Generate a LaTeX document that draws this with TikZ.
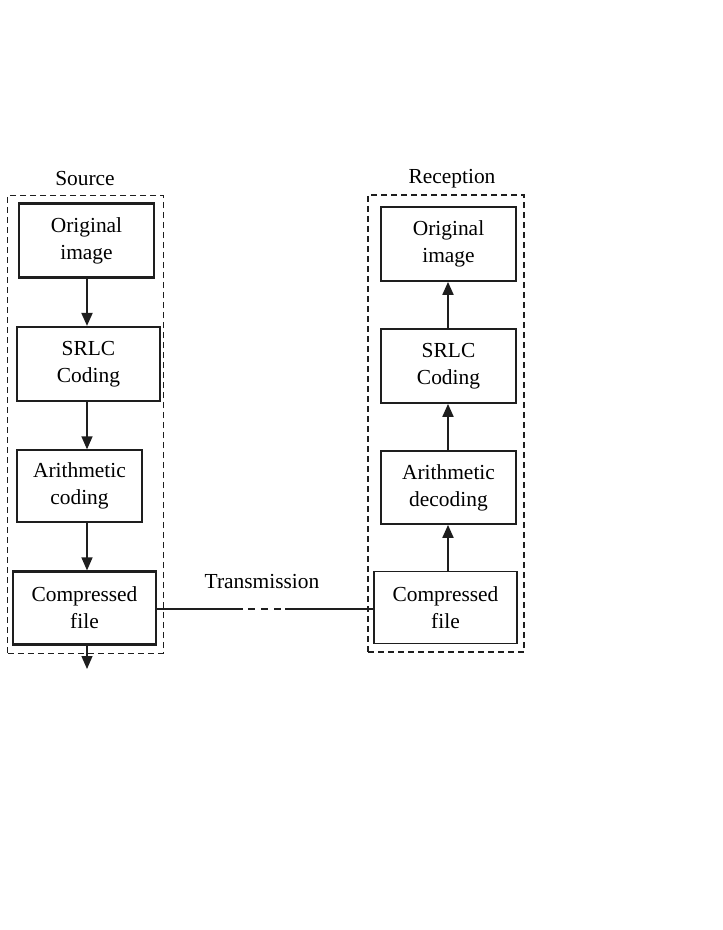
\documentclass[tikz,border=0pt]{standalone}
\usepackage{fontspec}
\setmainfont{Liberation Serif}
\usepackage{xcolor}
\definecolor{Ink}{RGB}{30,30,30}
\usepackage{tikz}
\usetikzlibrary{arrows.meta}
\tikzstyle{Block}=[draw=Ink,inner sep=0pt,align=center,minimum width=135bp,
minimum height=74bp,font=\fontsize{21.5}{27}\selectfont]
\tikzstyle{BlockThick}=[Block,line width=2.2bp]
\tikzstyle{BlockThin}=[Block,line width=1.3bp]
\tikzstyle{Frame}=[draw=Ink,dashed,dash pattern=on 6bp off 4bp,inner sep=0pt]
\tikzstyle{Flow}=[draw=Ink,line width=1.3bp,-{Triangle[width=11bp,length=13bp]}]
\tikzstyle{FlowThick}=[Flow,line width=2bp]
\tikzstyle{Link}=[draw=Ink,line width=1.3bp]
\tikzstyle{Caption}=[font=\fontsize{21.5}{27}\selectfont]

\begin{document}
\begin{tikzpicture}[x=1bp,y=-1bp]
        \useasboundingbox(0,0)rectangle(723,930);
        % source side
        \node[Frame,line width=1bp,minimum width=155bp,minimum height=458bp](F1)at(85.5,424){};
        \node[Frame,line width=1.8bp,minimum width=156bp,minimum height=457bp](F2)at(446,423.5){};
        \node[Caption](s)at(85,179){Source};
        \node[Caption](r)at(452,179){Reception};
        \node[BlockThick](O1)at(86.5,240.5){Original\\image};
        \node[BlockThick,minimum width=143bp](S1)at(88.5,364){SRLC\\Coding};
        \node[BlockThin,minimum width=125bp,minimum height=72bp](A1)at(79.5,486){Arithmetic\\coding};
        \node[BlockThick,minimum width=143bp,minimum height=73bp](C1)at(84.5,608){Compressed\\file};
        \draw[FlowThick](O1.south-|87,0)--(S1.north-|87,0);
        \draw[Flow](S1.south-|87,0)--(A1.north-|87,0);
        \draw[Flow](A1.south-|87,0)--(C1.north-|87,0);
        \coordinate(out)at(87,669);
        \draw[Flow](C1.south-|out)--(out);
        % reception side
        \node[BlockThick,line width=1.8bp](O2)at(448.5,244){Original\\image};
        \node[BlockThick,line width=1.8bp](S2)at(448.5,366){SRLC\\Coding};
        \node[BlockThick,line width=1.8bp,minimum height=73bp](A2)at(448.5,487.5){Arithmetic\\decoding};
        \node[BlockThick,line width=1.8bp,minimum width=143bp,minimum height=72bp](C2)at(445.5,607.5){Compressed\\file};
        \draw[FlowThick](C2.north-|448,0)--(A2.south-|448,0);
        \draw[FlowThick](A2.north-|448,0)--(S2.south-|448,0);
        \draw[FlowThick](S2.north-|448,0)--(O2.south-|448,0);
        % transmission
        \coordinate(t1)at(243,609);
        \coordinate(t2)at(285,609);
        \draw[Link](C1.east|-t1)--(t1);
        \draw[Link,dash pattern=on 7bp off 6bp,dash phase=8bp](t1)--(t2);
        \draw[Link](t2)--(C2.west|-t2);
        \node[Caption](tx)at(262,582){Transmission};
    \end{tikzpicture}
\end{document}
